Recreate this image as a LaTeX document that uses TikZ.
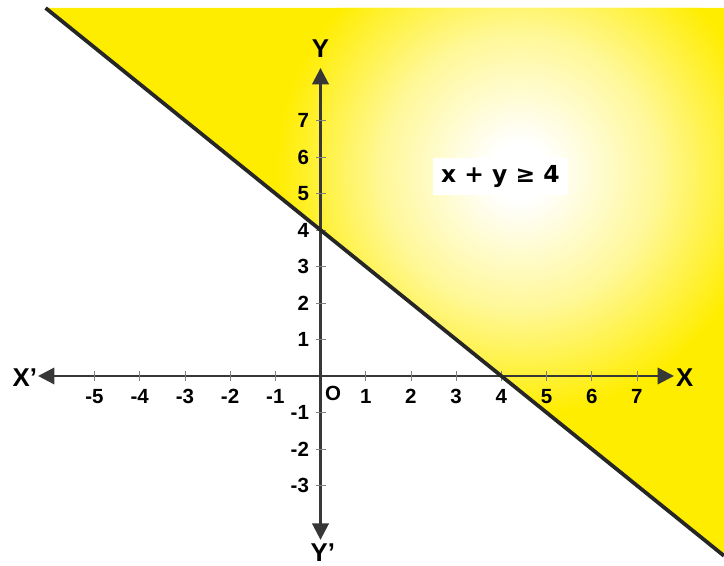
\documentclass[tikz,border=0pt]{standalone}
\usepackage{fontspec}
\setmainfont{Liberation Sans}
\newfontfamily\ineqfont{DejaVu Sans}
\usetikzlibrary{arrows.meta,calc}
\definecolor{fillyellow}{RGB}{255,237,0}
\definecolor{axisgray}{RGB}{55,55,55}
\pgfdeclareradialshading{sunglow}{\pgfpoint{0bp}{0bp}}{%
  color(0bp)=(white); color(3bp)=(white);
  color(14bp)=(fillyellow!40!white); color(25bp)=(fillyellow);
  color(50bp)=(fillyellow)}

\begin{document}
\begin{tikzpicture}[
  x=1.356cm, y=1.095cm, % 横纵单位不同
  >={Triangle[length=14pt,width=14pt]}, % 箭头样式
  axis/.style={draw=axisgray, line width=2.2pt},
  tickmark/.style={draw=gray, line width=0.6pt},
  num/.style={font=\fontsize{17.5}{19}\selectfont\bfseries, inner sep=0pt},
  axlabel/.style={font=\fontsize{22}{24}\selectfont\bfseries, inner sep=0pt}
]
\useasboundingbox (-7.091,-5.205) rectangle (8.927,10.301);

% 可行域
\coordinate (lineTop) at (-6.082,10.082);
\coordinate (cornerTR) at (8.927,10.082);
\coordinate (lineEnd) at (8.927,-4.927);
\fill[fillyellow] (lineTop) -- (cornerTR) -- (lineEnd) -- cycle;
\begin{scope}
  \clip (lineTop) -- (cornerTR) -- (lineEnd) -- cycle;
  \shade[shading=sunglow] (4.4,5.6) circle[radius=7.3cm];
\end{scope}

% 坐标轴
\coordinate (xLeft) at (-6.25,0);
\coordinate (xRight) at (7.82,0);
\coordinate (yTop) at (0,8.44);
\coordinate (yBottom) at (0,-4.49);
\draw[axis,<->] (xLeft) -- (xRight);
\draw[axis,<->] (yBottom) -- (yTop);

% 刻度
\foreach \i in {-5,-4,-3,-2,-1,1,2,3,4,5,6,7} {
  \draw[tickmark] (\i,-0.14) -- (\i,0.14);
  \node (xn\i) [num] at (\i,-0.55) {\i};
}
\foreach \j in {-3,-2,-1,1,2,3,4,5,6,7} {
  \draw[tickmark] (-0.1,\j) -- (0.12,\j);
  \node (yn\j) [num, anchor=east] at (-0.25,\j) {\j};
}

% 标注
\node (Xp) [axlabel] at (-6.54,-0.05) {X'};
\node (X) [axlabel] at (8.06,-0.05) {X};
\node (Y) [axlabel] at (0,8.96) {Y};
\node (Yp) [axlabel] at (0.05,-4.85) {Y'};
\node (O) [num] at (0.28,-0.47) {O};

% 边界直线
\draw[line width=3.2pt, draw=black!85] (lineTop) -- (lineEnd);

\node (ineq) [fill=white, minimum width=4.05cm, minimum height=1.11cm, inner sep=0pt,
  font=\ineqfont\fontsize{20}{22}\selectfont\bfseries] at (3.98,5.466) {x + y ≥ 4};
\end{tikzpicture}
\end{document}
